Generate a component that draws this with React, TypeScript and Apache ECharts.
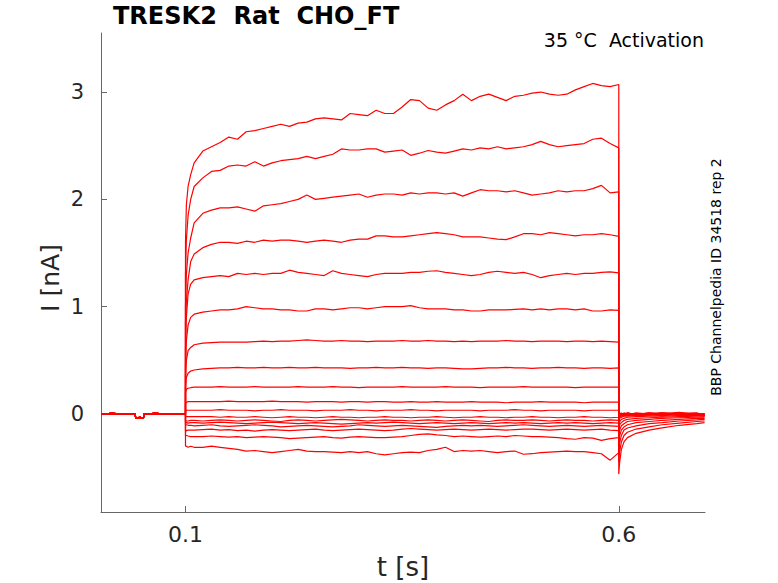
import { useEffect, useRef } from "react";
import * as echarts from "echarts";

// holding period before the pulse, the same for every sweep
const preT = [0.0025, 0.015, 0.03, 0.042, 0.0425, 0.046, 0.0465, 0.048, 0.0485, 0.0515, 0.052, 0.065, 0.08, 0.1];
const preI = [0, 0.005, 0, 0, -0.04, -0.04, -0.03, -0.03, -0.04, -0.04, 0, 0.005, 0, 0];

// sample times of the test pulse and of the tail (s)
const pulseT = [
  0.1, 0.101, 0.103, 0.106, 0.11, 0.12, 0.13, 0.14, 0.15, 0.16, 0.17, 0.18, 0.19, 0.2, 0.21, 0.22,
  0.23, 0.24, 0.25, 0.26, 0.27, 0.28, 0.29, 0.3, 0.31, 0.32, 0.33, 0.34, 0.35, 0.36, 0.37, 0.38,
  0.39, 0.4, 0.41, 0.42, 0.43, 0.44, 0.45, 0.46, 0.47, 0.48, 0.49, 0.5, 0.51, 0.52, 0.53, 0.54,
  0.55, 0.56, 0.57, 0.58, 0.59, 0.6,
];
const tailT = [0.6, 0.601, 0.603, 0.606, 0.61, 0.62, 0.635, 0.65, 0.67, 0.69, 0.699];

// current during the pulse (nA), one array per sweep
const pulse01 = [1.6, 1.95, 2.12, 2.23, 2.34, 2.45,
  2.49, 2.53, 2.58, 2.56, 2.63, 2.64, 2.66, 2.68, 2.70, 2.68,
  2.71, 2.72, 2.75, 2.76, 2.75, 2.74, 2.80, 2.79, 2.78, 2.83,
  2.80, 2.80, 2.86, 2.93, 2.92, 2.85, 2.83, 2.88, 2.92, 2.98,
  2.92, 2.96, 2.98, 2.95, 2.92, 2.96, 2.97, 2.99, 3.00, 2.98,
  2.97, 2.98, 3.02, 3.05, 3.08, 3.06, 3.05, 3.07];
const pulse02 = [1.3, 1.62, 1.85, 2.0, 2.12, 2.2,
  2.26, 2.27, 2.31, 2.32, 2.31, 2.35, 2.31, 2.34, 2.36, 2.37,
  2.38, 2.40, 2.38, 2.40, 2.42, 2.47, 2.46, 2.46, 2.47, 2.47,
  2.44, 2.45, 2.46, 2.41, 2.43, 2.455, 2.44, 2.43, 2.45, 2.47,
  2.46, 2.48, 2.47, 2.49, 2.47, 2.48, 2.49, 2.51, 2.54, 2.51,
  2.49, 2.50, 2.51, 2.52, 2.56, 2.57, 2.52, 2.48];
const pulse03 = [1.0, 1.3, 1.5, 1.64, 1.78, 1.87,
  1.90, 1.92, 1.92, 1.93, 1.91, 1.89, 1.94, 1.95, 1.96, 1.98,
  2.00, 2.04, 2.00, 2.01, 2.02, 2.03, 2.04, 2.05, 2.02, 2.04,
  2.05, 2.05, 2.04, 2.06, 2.05, 2.06, 2.06, 2.05, 2.06, 2.03,
  2.06, 2.09, 2.08, 2.08, 2.07, 2.08, 2.06, 2.04, 2.05, 2.06,
  2.08, 2.07, 2.08, 2.08, 2.10, 2.13, 2.06, 2.07];
const pulse04 = [0.85, 1.05, 1.25, 1.42, 1.49, 1.55,
  1.58, 1.60, 1.60, 1.59, 1.61, 1.60, 1.62, 1.61, 1.62, 1.62,
  1.61, 1.60, 1.61, 1.62, 1.61, 1.60, 1.62, 1.63, 1.63, 1.66,
  1.66, 1.65, 1.65, 1.66, 1.67, 1.68, 1.69, 1.68, 1.67, 1.65,
  1.65, 1.65, 1.64, 1.63, 1.625, 1.65, 1.68, 1.68, 1.67, 1.69,
  1.68, 1.67, 1.66, 1.67, 1.67, 1.68, 1.67, 1.655];
const pulse05 = [0.6, 0.9, 1.12, 1.21, 1.25, 1.27,
  1.28, 1.29, 1.28, 1.31, 1.30, 1.31, 1.30, 1.31, 1.31, 1.34,
  1.32, 1.31, 1.30, 1.29, 1.335, 1.31, 1.30, 1.29, 1.28, 1.30,
  1.31, 1.31, 1.31, 1.32, 1.32, 1.33, 1.335, 1.32, 1.31, 1.30,
  1.29, 1.30, 1.32, 1.33, 1.32, 1.31, 1.32, 1.30, 1.27, 1.29,
  1.30, 1.31, 1.30, 1.31, 1.31, 1.32, 1.325, 1.315];
const pulse06 = [0.45, 0.68, 0.83, 0.90, 0.93, 0.95,
  0.96, 0.97, 0.97, 0.98, 1.00, 0.99, 0.98, 0.98, 0.97, 0.97,
  0.96, 0.96, 0.98, 0.98, 0.97, 0.98, 0.99, 0.99, 0.98, 0.99,
  1.00, 1.00, 1.00, 1.01, 0.99, 0.98, 0.98, 0.98, 0.97, 0.97,
  0.96, 0.96, 0.97, 0.97, 0.97, 0.975, 0.98, 0.97, 0.98, 0.97,
  0.98, 0.98, 0.97, 0.98, 0.96, 0.96, 0.97, 0.965];
const pulse07 = [0.35, 0.5, 0.59, 0.62, 0.645, 0.66,
  0.665, 0.67, 0.67, 0.67, 0.67, 0.675, 0.68, 0.675, 0.68, 0.68,
  0.685, 0.69, 0.685, 0.68, 0.68, 0.685, 0.68, 0.68, 0.675, 0.68,
  0.68, 0.68, 0.685, 0.68, 0.68, 0.685, 0.68, 0.68, 0.675, 0.68,
  0.675, 0.68, 0.68, 0.68, 0.685, 0.68, 0.68, 0.675, 0.68, 0.68,
  0.68, 0.675, 0.68, 0.68, 0.675, 0.68, 0.675, 0.67];
const pulse08 = [0.25, 0.34, 0.38, 0.40, 0.41, 0.42,
  0.425, 0.43, 0.43, 0.435, 0.43, 0.43, 0.435, 0.43, 0.43, 0.435,
  0.43, 0.43, 0.435, 0.43, 0.43, 0.43, 0.425, 0.43, 0.43, 0.435,
  0.43, 0.43, 0.435, 0.43, 0.43, 0.425, 0.43, 0.43, 0.425, 0.42,
  0.42, 0.425, 0.43, 0.43, 0.435, 0.43, 0.43, 0.425, 0.43, 0.43,
  0.435, 0.43, 0.43, 0.425, 0.43, 0.43, 0.425, 0.43];
const pulse09 = [0.2, 0.23, 0.24, 0.245, 0.25, 0.25,
  0.25, 0.255, 0.25, 0.25, 0.25, 0.255, 0.25, 0.25, 0.25, 0.25,
  0.255, 0.25, 0.25, 0.25, 0.255, 0.25, 0.25, 0.245, 0.25, 0.25,
  0.25, 0.25, 0.255, 0.25, 0.25, 0.25, 0.25, 0.255, 0.25, 0.25,
  0.25, 0.245, 0.25, 0.25, 0.25, 0.25, 0.255, 0.25, 0.25, 0.25,
  0.25, 0.25, 0.245, 0.25, 0.25, 0.25, 0.25, 0.25];
const pulse10 = [0.1, 0.11, 0.115, 0.115, 0.115, 0.115,
  0.115, 0.115, 0.12, 0.115, 0.115, 0.115, 0.115, 0.12, 0.115, 0.115,
  0.115, 0.11, 0.115, 0.115, 0.115, 0.11, 0.115, 0.115, 0.11, 0.115,
  0.115, 0.11, 0.11, 0.115, 0.11, 0.11, 0.115, 0.11, 0.11, 0.11,
  0.115, 0.11, 0.11, 0.11, 0.105, 0.11, 0.11, 0.11, 0.115, 0.11,
  0.11, 0.11, 0.11, 0.105, 0.11, 0.11, 0.11, 0.11];
const pulse11 = [0.03, 0.035, 0.035, 0.035, 0.035, 0.035,
  0.035, 0.04, 0.035, 0.035, 0.035, 0.03, 0.035, 0.035, 0.04, 0.035,
  0.035, 0.035, 0.03, 0.035, 0.035, 0.035, 0.04, 0.035, 0.035, 0.03,
  0.035, 0.035, 0.035, 0.04, 0.035, 0.035, 0.03, 0.035, 0.035, 0.035,
  0.035, 0.03, 0.035, 0.035, 0.035, 0.04, 0.035, 0.035, 0.03, 0.035,
  0.035, 0.035, 0.035, 0.03, 0.035, 0.035, 0.035, 0.035];
const pulse12 = [-0.02, -0.025, -0.025, -0.025, -0.025, -0.025,
  -0.025, -0.03, -0.025, -0.03, -0.03, -0.025, -0.03, -0.035, -0.03, -0.025,
  -0.03, -0.03, -0.035, -0.03, -0.025, -0.03, -0.03, -0.035, -0.03, -0.03,
  -0.025, -0.03, -0.03, -0.035, -0.03, -0.03, -0.025, -0.03, -0.035, -0.03,
  -0.03, -0.025, -0.03, -0.03, -0.035, -0.03, -0.03, -0.025, -0.03, -0.03,
  -0.035, -0.03, -0.03, -0.025, -0.03, -0.03, -0.035, -0.03];
const pulse13 = [-0.06, -0.065, -0.065, -0.06, -0.06, -0.065,
  -0.06, -0.055, -0.06, -0.065, -0.06, -0.055, -0.06, -0.065, -0.07, -0.06,
  -0.055, -0.06, -0.065, -0.06, -0.055, -0.05, -0.055, -0.06, -0.065, -0.06,
  -0.055, -0.06, -0.06, -0.065, -0.06, -0.055, -0.06, -0.065, -0.06, -0.055,
  -0.06, -0.065, -0.07, -0.06, -0.055, -0.06, -0.06, -0.055, -0.06, -0.065,
  -0.06, -0.055, -0.06, -0.06, -0.065, -0.06, -0.055, -0.06];
const pulse14 = [-0.08, -0.08, -0.085, -0.08, -0.08, -0.085,
  -0.08, -0.075, -0.08, -0.085, -0.09, -0.085, -0.08, -0.075, -0.08, -0.085,
  -0.09, -0.085, -0.08, -0.085, -0.09, -0.095, -0.09, -0.085, -0.08, -0.085,
  -0.08, -0.075, -0.08, -0.085, -0.09, -0.085, -0.08, -0.085, -0.09, -0.085,
  -0.08, -0.085, -0.09, -0.085, -0.08, -0.085, -0.08, -0.085, -0.09, -0.085,
  -0.08, -0.085, -0.08, -0.085, -0.09, -0.085, -0.08, -0.085];
const pulse15 = [-0.1, -0.1, -0.105, -0.105, -0.11, -0.105,
  -0.1, -0.11, -0.115, -0.11, -0.105, -0.1, -0.105, -0.11, -0.12, -0.115,
  -0.11, -0.105, -0.11, -0.115, -0.12, -0.115, -0.11, -0.1, -0.105, -0.11,
  -0.115, -0.11, -0.105, -0.11, -0.115, -0.12, -0.125, -0.115, -0.11, -0.105,
  -0.11, -0.105, -0.11, -0.115, -0.11, -0.105, -0.1, -0.105, -0.11, -0.115,
  -0.11, -0.105, -0.11, -0.115, -0.11, -0.105, -0.11, -0.115];
const pulse16 = [-0.16, -0.155, -0.15, -0.15, -0.15, -0.145,
  -0.14, -0.15, -0.145, -0.155, -0.15, -0.16, -0.15, -0.145, -0.15, -0.155,
  -0.15, -0.145, -0.14, -0.15, -0.155, -0.15, -0.145, -0.14, -0.145, -0.15,
  -0.155, -0.15, -0.14, -0.135, -0.14, -0.145, -0.15, -0.145, -0.14, -0.145,
  -0.15, -0.145, -0.14, -0.145, -0.15, -0.145, -0.14, -0.14, -0.145, -0.15,
  -0.145, -0.14, -0.145, -0.15, -0.145, -0.14, -0.15, -0.155];
const pulse17 = [-0.2, -0.2, -0.205, -0.21, -0.21, -0.21,
  -0.205, -0.21, -0.215, -0.21, -0.22, -0.215, -0.21, -0.215, -0.22, -0.23,
  -0.225, -0.22, -0.215, -0.21, -0.22, -0.225, -0.215, -0.21, -0.215, -0.22,
  -0.22, -0.215, -0.21, -0.2, -0.19, -0.185, -0.195, -0.2, -0.21, -0.205,
  -0.21, -0.215, -0.21, -0.205, -0.21, -0.2, -0.205, -0.21, -0.21, -0.215,
  -0.22, -0.23, -0.235, -0.22, -0.225, -0.245, -0.23, -0.22];
const pulse18 = [-0.3, -0.3, -0.31, -0.3, -0.31, -0.31,
  -0.3, -0.31, -0.32, -0.33, -0.345, -0.34, -0.35, -0.36, -0.35, -0.34,
  -0.33, -0.345, -0.35, -0.35, -0.355, -0.36, -0.35, -0.36, -0.35, -0.37,
  -0.38, -0.37, -0.36, -0.355, -0.36, -0.34, -0.33, -0.31, -0.35, -0.34,
  -0.345, -0.34, -0.35, -0.36, -0.35, -0.345, -0.375, -0.37, -0.36, -0.355,
  -0.35, -0.345, -0.35, -0.35, -0.36, -0.37, -0.43, -0.36];

// tail current after the pulse (nA)
const tail01 = [-0.56, -0.45, -0.33, -0.26, -0.22, -0.18, -0.15, -0.13, -0.105, -0.09, -0.08];
const tail02 = [-0.45, -0.35, -0.26, -0.2, -0.17, -0.14, -0.12, -0.1, -0.085, -0.07, -0.065];
const tail03 = [-0.35, -0.27, -0.2, -0.15, -0.13, -0.11, -0.09, -0.08, -0.065, -0.055, -0.05];
const tail04 = [-0.28, -0.2, -0.15, -0.12, -0.1, -0.08, -0.07, -0.06, -0.05, -0.04, -0.04];
const tail05 = [-0.2, -0.15, -0.11, -0.09, -0.07, -0.06, -0.05, -0.04, -0.035, -0.03, -0.03];
const tail06 = [-0.15, -0.1, -0.08, -0.06, -0.05, -0.04, -0.035, -0.03, -0.025, -0.02, -0.02];
const tail07 = [-0.1, -0.07, -0.05, -0.04, -0.03, -0.025, -0.02, -0.02, -0.015, -0.01, -0.015];
const tail08 = [-0.06, -0.04, -0.03, -0.02, -0.02, -0.015, -0.01, -0.01, -0.005, -0.01, -0.005];
const tail09 = [-0.04, -0.03, -0.02, -0.015, -0.01, -0.01, -0.005, 0, -0.005, 0, -0.005];
const tail10 = [-0.025, -0.02, -0.015, -0.01, -0.005, -0.01, 0, -0.005, 0.005, 0, -0.005];
const tail11 = [-0.015, -0.01, -0.01, -0.005, -0.01, 0, -0.005, 0.005, 0, -0.005, 0];
const tail12 = [-0.01, -0.005, 0, -0.005, 0.005, -0.01, 0, -0.005, 0.005, -0.01, 0];
const tail13 = [0, -0.01, 0.005, 0, -0.01, 0.005, -0.005, 0.01, -0.005, 0, -0.01];
const tail14 = [0.005, 0, -0.005, 0.01, 0, -0.005, 0.01, 0, 0.005, -0.005, 0.005];
const tail15 = [0.01, -0.005, 0.005, 0, 0.01, -0.005, 0.005, 0.01, 0, 0.005, -0.01];
const tail16 = [0, 0.01, -0.005, 0.005, -0.01, 0.01, 0, 0.005, 0.015, -0.005, 0.005];
const tail17 = [-0.01, 0, 0.01, -0.01, 0.005, -0.005, 0.01, -0.01, 0.005, 0.01, -0.015];
const tail18 = [-0.02, -0.01, 0, -0.015, 0.01, -0.01, 0.005, -0.02, 0.01, -0.01, -0.02];

const sweeps = [
  [pulse01, tail01], [pulse02, tail02], [pulse03, tail03], [pulse04, tail04],
  [pulse05, tail05], [pulse06, tail06], [pulse07, tail07], [pulse08, tail08],
  [pulse09, tail09], [pulse10, tail10], [pulse11, tail11], [pulse12, tail12],
  [pulse13, tail13], [pulse14, tail14], [pulse15, tail15], [pulse16, tail16],
  [pulse17, tail17], [pulse18, tail18],
];

const xTicks = [0.1, 0.6];
const yTicks = [0, 1, 2, 3];

const FONT = '"DejaVu Sans", sans-serif';

export default function App() {
  const ref = useRef<HTMLDivElement>(null);

  useEffect(() => {
    document.body.style.margin = "0";
    if (!ref.current) return;
    const chart = echarts.init(ref.current, null, { renderer: "svg" });

    const series = sweeps.map(([pulse, tail], k) => ({
      name: "sweep " + (k + 1),
      type: "line",
      showSymbol: false,
      silent: true,
      lineStyle: { color: "#ff0000", width: 1.2 },
      data: [
        ...preT.map((t, i) => [t, preI[i]]),
        ...pulseT.map((t, i) => [t, pulse[i]]),
        ...tailT.map((t, i) => [t, tail[i]]),
      ],
    }));

    chart.setOption({
      animation: false,
      grid: { left: 101, right: 73, top: 33, bottom: 71 },
      xAxis: {
        type: "value",
        min: 0.0025,
        max: 0.6995,
        axisLine: { onZero: false, lineStyle: { color: "#666", width: 1 } },
        axisTick: { inside: true, length: 6, customValues: xTicks, lineStyle: { color: "#666" } },
        axisLabel: { customValues: xTicks, color: "#262626", fontSize: 22, fontFamily: FONT, margin: 11 },
        splitLine: { show: false },
      },
      yAxis: {
        type: "value",
        min: -0.913,
        max: 3.55,
        axisLine: { show: true, lineStyle: { color: "#666", width: 1 } },
        axisTick: { show: true, inside: true, length: 6, customValues: yTicks, lineStyle: { color: "#666" } },
        axisLabel: { customValues: yTicks, color: "#262626", fontSize: 21, fontFamily: FONT, margin: 17 },
        splitLine: { show: false },
      },
      graphic: [
        {
          type: "text", left: 113, top: 4,
          style: { text: "TRESK2  Rat  CHO_FT", font: `bold 24px ${FONT}`, fill: "#000" },
        },
        {
          type: "text", right: 74, top: 30,
          style: { text: "35 °C  Activation", font: `19px ${FONT}`, fill: "#000" },
        },
        {
          type: "text", x: 716, y: 277, rotation: Math.PI / 2,
          style: { text: "BBP Channelpedia ID 34518 rep 2", font: `14px ${FONT}`, fill: "#000", align: "center", verticalAlign: "middle" },
        },
        {
          type: "text", x: 50, y: 278, rotation: Math.PI / 2,
          style: { text: "I [nA]", font: `25px ${FONT}`, fill: "#262626", align: "center", verticalAlign: "middle" },
        },
        {
          type: "text", x: 403, y: 567,
          style: { text: "t [s]", font: `26px ${FONT}`, fill: "#262626", align: "center", verticalAlign: "middle" },
        },
      ],
      series,
    });

    return () => chart.dispose();
  }, []);

  return <div ref={ref} style={{ width: 778, height: 583 }} />;
}
